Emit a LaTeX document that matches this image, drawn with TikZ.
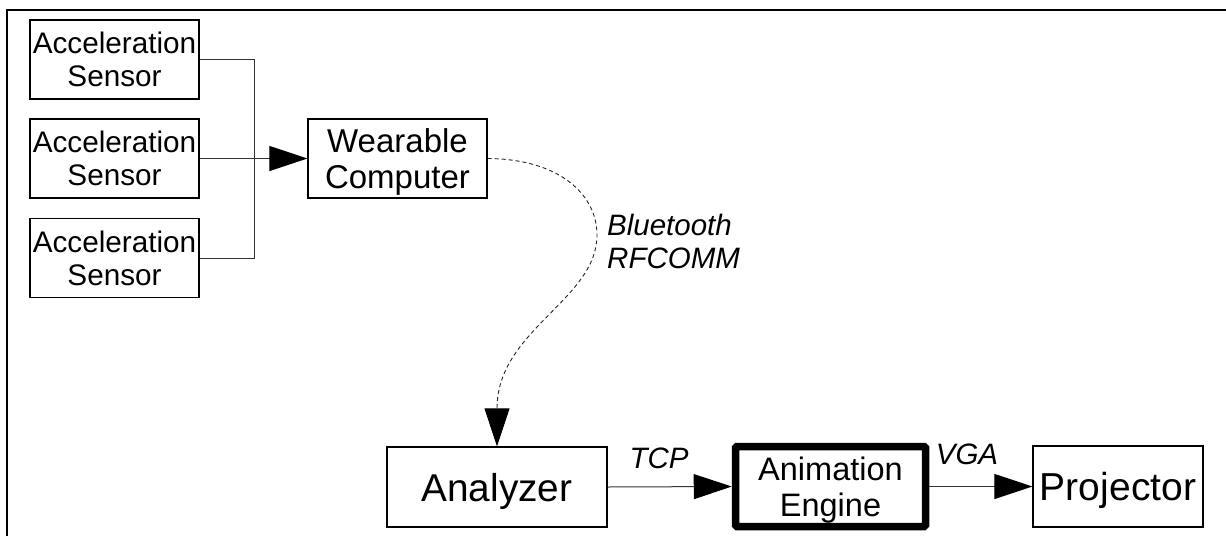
\documentclass[tikz,border=0pt]{standalone}
\usepackage{fontspec}
\setmainfont{Liberation Sans}
\usetikzlibrary{arrows.meta}
\tikzset{
  box/.style={draw, line width=1.3pt, inner sep=0pt, align=center, text depth=0pt},
  sensorbox/.style={box, minimum width=169pt, minimum height=79pt, font=\fontsize{29.7}{33}\selectfont},
  conn/.style={draw=black!80, line width=1pt},
  tipped/.style={-{Triangle[length=38pt,width=25pt,color=black]}},
  lbl/.style={anchor=base, inner sep=0pt, font=\fontsize{29.5}{33}\selectfont\itshape},
}
\begin{document}
\begin{tikzpicture}[x=1pt, y=-1pt]
\useasboundingbox (0,0) rectangle (1226,536);
% frame
\draw[line width=1.6pt] (7,536) -- (7,10) -- (1226,10);
% nodes
\node[sensorbox] (s1) at (114.5,59.5) {Acceleration\\Sensor};
\node[sensorbox] (s2) at (114.5,158.5) {Acceleration\\Sensor};
\node[sensorbox] (s3) at (114.5,258) {Acceleration\\Sensor};
\node[box, minimum width=179pt, minimum height=79pt, font=\fontsize{33}{36}\selectfont] (wc) at (397.5,158.5) {Wearable\\Computer};
\node[box, minimum width=220pt, minimum height=80pt, font=\fontsize{38.8}{44}\selectfont] (an) at (497,487) {Analyzer};
\node[box, line width=7.5pt, rounded corners=1.5pt, minimum width=190pt, minimum height=80pt, font=\fontsize{32.5}{36}\selectfont] (ae) at (830.5,486.5) {Animation\\Engine};
\node[box, minimum width=170pt, minimum height=81pt, font=\fontsize{39}{44}\selectfont] (pr) at (1118,486.5) {Projector};
% bus
\coordinate (j) at (254,158.5);
\coordinate (bend) at (597,235);
\draw[conn] (s1.east) -| (j);
\draw[conn] (s3.east) -| (j);
\draw[conn, tipped] (s2.east) -- (wc.west);
% bluetooth link
\draw[draw=black!85, line width=0.9pt, dash pattern=on 4pt off 3pt, tipped]
  (wc.east) .. controls (560,159) and (597,195) .. (bend)
  .. controls (597,300) and (497,330) .. (an.north);
\node[lbl, anchor=base west] (bt) at (607,235) {Bluetooth};
\node[lbl, anchor=base west] (rf) at (607,268) {RFCOMM};
% bottom chain
\draw[conn, tipped] (an.east) -- (ae.west);
\draw[conn, tipped] (ae.east) -- (pr.west);
\node[lbl] (tcp) at (659,468) {TCP};
\node[lbl] (vga) at (967,464) {VGA};
\end{tikzpicture}
\end{document}
